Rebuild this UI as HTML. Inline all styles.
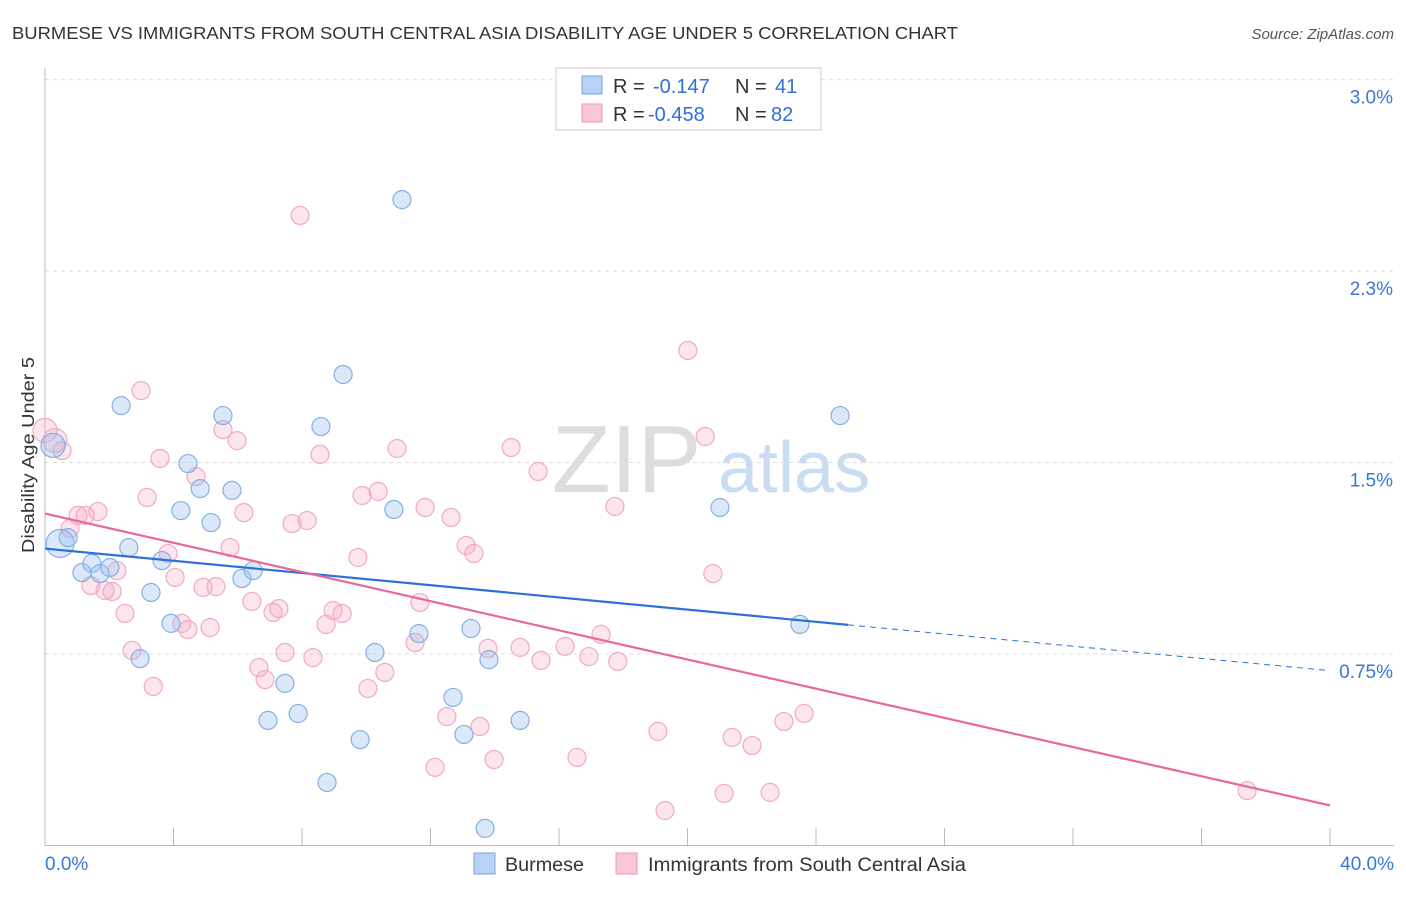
<!DOCTYPE html>
<html><head><meta charset="utf-8"><style>
body{margin:0;background:#fff;font-family:"Liberation Sans",sans-serif;}
svg text{font-family:"Liberation Sans",sans-serif;}
</style></head><body>
<svg id="chart" width="1406" height="892" xmlns="http://www.w3.org/2000/svg">
<text x="12" y="39" font-size="17.5" fill="#333" textLength="946" lengthAdjust="spacingAndGlyphs">BURMESE VS IMMIGRANTS FROM SOUTH CENTRAL ASIA DISABILITY AGE UNDER 5 CORRELATION CHART</text>
<text x="1394" y="39" font-size="15" fill="#555" text-anchor="end" font-style="italic">Source: ZipAtlas.com</text>
<g>
<text x="552" y="492" font-size="96" fill="#ddd" font-family="Liberation Serif,serif">ZIP</text>
<text x="718" y="492" font-size="72" fill="#c9dcf2">atlas</text>
</g>
<g id="grid"></g>
<g id="axes"></g>
<g id="marks"></g>
<text transform="translate(34,455) rotate(-90)" font-size="17.5" fill="#333" text-anchor="middle" textLength="196" lengthAdjust="spacingAndGlyphs">Disability Age Under 5</text>
<g>
<rect x="556" y="68" width="265" height="62" fill="#fff" stroke="#ccc"/>
<rect x="582" y="76" width="20" height="18" fill="#b8d2f5" stroke="#7aa7e0"/>
<rect x="582" y="104" width="20" height="18" fill="#f8c6d6" stroke="#e89ab5"/>
<text y="93" font-size="20" fill="#333"><tspan x="613">R =</tspan><tspan x="653" fill="#2f6fd8">-0.147</tspan><tspan x="735">N =</tspan><tspan x="775" fill="#2f6fd8">41</tspan></text>
<text y="121" font-size="20" fill="#333"><tspan x="613">R =</tspan><tspan x="648" fill="#2f6fd8">-0.458</tspan><tspan x="735">N =</tspan><tspan x="771" fill="#2f6fd8">82</tspan></text>
</g>
<g>
<rect x="474" y="853" width="21" height="21" fill="#b8d2f5" stroke="#7aa7e0"/>
<text x="505" y="871" font-size="19" fill="#333" textLength="79" lengthAdjust="spacingAndGlyphs">Burmese</text>
<rect x="616" y="853" width="21" height="21" fill="#f8c6d6" stroke="#e89ab5"/>
<text x="648" y="871" font-size="19" fill="#333" textLength="318" lengthAdjust="spacingAndGlyphs">Immigrants from South Central Asia</text>
</g>
</svg>
<script>
const blueX=[0.25,0.47,0.72,1.15,1.46,1.71,2.02,2.37,2.61,2.96,3.30,3.64,3.92,4.23,4.45,4.83,5.17,5.54,5.82,6.13,6.48,6.94,7.47,7.88,8.59,8.78,9.28,9.81,10.27,10.86,11.11,11.64,12.70,13.04,13.26,13.70,13.82,14.79,21.01,23.50,24.75];
const blueY=[1.567,1.183,1.206,1.069,1.105,1.065,1.089,1.723,1.167,0.732,0.991,1.116,0.870,1.312,1.496,1.398,1.265,1.684,1.391,1.046,1.077,0.490,0.635,0.517,1.641,0.247,1.845,0.415,0.756,1.316,2.530,0.830,0.580,0.435,0.850,0.067,0.728,0.490,1.324,0.866,1.684];
const pinkX=[0.0,0.31,0.53,0.78,1.03,1.25,1.43,1.65,1.87,2.09,2.24,2.49,2.71,2.99,3.18,3.37,3.58,3.83,4.05,4.26,4.45,4.70,4.92,5.14,5.32,5.54,5.76,5.98,6.19,6.44,6.66,6.85,7.10,7.28,7.47,7.69,7.94,8.16,8.34,8.56,8.75,8.97,9.25,9.74,9.87,10.05,10.37,10.58,10.96,11.52,11.67,11.83,12.14,12.51,12.64,13.11,13.35,13.54,13.79,13.98,14.51,14.79,15.35,15.44,16.19,16.56,16.93,17.31,17.74,17.83,19.08,19.30,20.01,20.55,20.79,21.14,21.39,22.01,22.57,23.00,23.63,37.42];
const pinkY=[1.626,1.586,1.547,1.242,1.293,1.293,1.018,1.308,0.999,0.995,1.077,0.909,0.764,1.782,1.363,0.623,1.516,1.144,1.050,0.870,0.846,1.445,1.011,0.854,1.014,1.629,1.167,1.586,1.304,0.956,0.697,0.650,0.913,0.928,0.756,1.261,2.468,1.273,0.736,1.532,0.866,0.920,0.909,1.128,1.371,0.615,1.387,0.678,1.555,0.795,0.952,1.324,0.306,0.505,1.285,1.175,1.144,0.466,0.772,0.337,1.559,0.776,1.465,0.725,0.780,0.345,0.740,0.827,1.328,0.721,0.447,0.137,1.939,1.602,1.065,0.204,0.423,0.392,0.208,0.486,0.517,0.215];
const blueTrend=[1.163,0.685];
const pinkTrend=[1.300,0.157];
const yTicks=[0.75,1.5,2.25,3.0];
const yTickLabels=["0.75%","1.5%","2.3%","3.0%"];
const xTicks=[0,4,8,12,16,20,24,28,32,36,40];

const NS="http://www.w3.org/2000/svg";
const X0=45,X1=1330,Y0=845.5,YS=255.3;
const xs=v=>X0+(v/40)*(X1-X0);
const ys=v=>Y0-v*YS;
function mk(parent,tag,attrs){const e=document.createElementNS(NS,tag);for(const k in attrs)e.setAttribute(k,attrs[k]);document.getElementById(parent).appendChild(e);return e;}

yTicks.forEach((t,i)=>{
  const g=mk('grid','line',{x1:X0,x2:1394,y1:ys(t),y2:ys(t),stroke:'#ddd','stroke-dasharray':'4,4'});
  
  
  const tx=mk('axes','text',{x:1393,y:ys(t)+24,'font-size':19,fill:'#3a78d6','text-anchor':'end'});
  tx.textContent=yTickLabels[i];
  
  
});
const ya=mk('axes','line',{x1:X0,x2:X0,y1:68,y2:Y0,stroke:'#bbb'});


const xa=mk('axes','line',{x1:X0,x2:1394,y1:Y0,y2:Y0,stroke:'#bbb'});


xTicks.forEach(t=>{
  const l=mk('axes','line',{x1:xs(t),x2:xs(t),y1:828,y2:Y0,stroke:'#bbb'});
  
  
});
const xl0=mk('axes','text',{x:45,y:870,'font-size':19,fill:'#3a78d6'});xl0.textContent=xTicks[0].toFixed(1)+'%';


const xl1=mk('axes','text',{x:1394,y:870,'font-size':19,fill:'#3a78d6','text-anchor':'end'});xl1.textContent=xTicks[xTicks.length-1].toFixed(1)+'%';



function pts(X,Y,fill,stroke,name){
  X.forEach((x,i)=>{
    const r=(i<2)?(name==='burmese-point'&&i===1?14:12):9;
    const c=mk('marks','circle',{cx:xs(x),cy:ys(Y[i]),r:r,fill:fill,stroke:stroke,'stroke-width':1.2});
    
    
  });
}
pts(pinkX,pinkY,'rgba(245,170,195,0.3)','#efaac2','immigrant-point');
pts(blueX,blueY,'rgba(150,190,240,0.35)','#86afe3','burmese-point');

const bEnd=25.0;
const bAt=x=>blueTrend[0]+(blueTrend[1]-blueTrend[0])*x/40;
const bl=mk('marks','line',{x1:xs(0),y1:ys(bAt(0)),x2:xs(bEnd),y2:ys(bAt(bEnd)),stroke:'#2f6fd8','stroke-width':2.2});


const bd=mk('marks','line',{x1:xs(bEnd),y1:ys(bAt(bEnd)),x2:xs(40),y2:ys(bAt(40)),stroke:'#2f6fd8','stroke-width':1,'stroke-dasharray':'6,5'});


const pl=mk('marks','line',{x1:xs(0),y1:ys(pinkTrend[0]),x2:xs(40),y2:ys(pinkTrend[1]),stroke:'#e8689a','stroke-width':2.2});


</script>
</body></html>
